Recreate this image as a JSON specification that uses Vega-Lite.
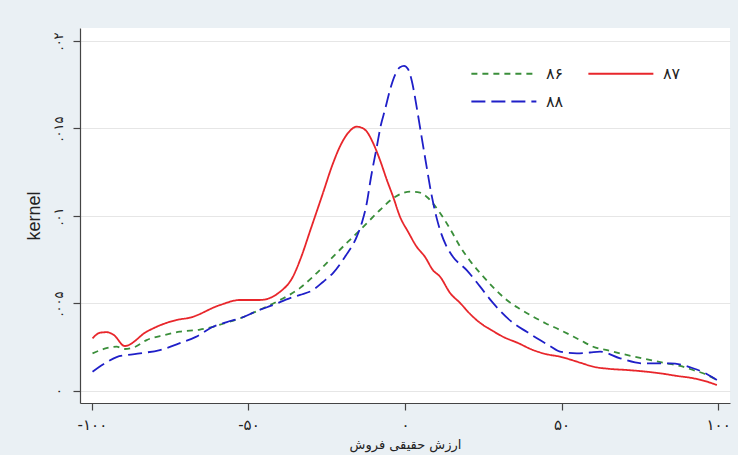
{
  "$schema": "https://vega.github.io/schema/vega-lite/v6.json",
  "width": 650,
  "height": 375,
  "autosize": {"type": "none"},
  "padding": {"left": 80, "top": 28, "right": 8, "bottom": 52},
  "background": "#eaf0f4",
  "config": {
    "view": {"fill": "white", "stroke": null},
    "font": "DejaVu Sans"
  },
  "data": {"values": [
    {"g":"۸۷","x":-99.8,"y":0.00301},{"g":"۸۷","x":-97.4,"y":0.00333},{"g":"۸۷","x":-95.3,"y":0.00336},{"g":"۸۷","x":-93.0,"y":0.0032},{"g":"۸۷","x":-89.5,"y":0.00257},{"g":"۸۷","x":-82.5,"y":0.00339},{"g":"۸۷","x":-72.9,"y":0.00406},{"g":"۸۷","x":-68.7,"y":0.00419},{"g":"۸۷","x":-59.1,"y":0.00491},{"g":"۸۷","x":-52.7,"y":0.0052},{"g":"۸۷","x":-46.3,"y":0.0052},{"g":"۸۷","x":-39.9,"y":0.00567},{"g":"۸۷","x":-35.8,"y":0.00653},{"g":"۸۷","x":-33.5,"y":0.00749},{"g":"۸۷","x":-30.0,"y":0.00931},{"g":"۸۷","x":-26.2,"y":0.01131},{"g":"۸۷","x":-23.3,"y":0.01286},{"g":"۸۷","x":-20.8,"y":0.01396},{"g":"۸۷","x":-18.2,"y":0.01474},{"g":"۸۷","x":-15.4,"y":0.0151},{"g":"۸۷","x":-13.7,"y":0.01503},{"g":"۸۷","x":-12.2,"y":0.01482},{"g":"۸۷","x":-10.2,"y":0.01417},{"g":"۸۷","x":-8.0,"y":0.0132},{"g":"۸۷","x":-5.8,"y":0.01206},{"g":"۸۷","x":-3.8,"y":0.0111},{"g":"۸۷","x":-1.6,"y":0.00996},{"g":"۸۷","x":1.0,"y":0.00909},{"g":"۸۷","x":3.7,"y":0.00825},{"g":"۸۷","x":6.4,"y":0.00766},{"g":"۸۷","x":8.9,"y":0.00691},{"g":"۸۷","x":11.2,"y":0.00653},{"g":"۸۷","x":14.4,"y":0.0056},{"g":"۸۷","x":17.6,"y":0.00503},{"g":"۸۷","x":20.8,"y":0.0044},{"g":"۸۷","x":24.0,"y":0.00389},{"g":"۸۷","x":27.5,"y":0.00349},{"g":"۸۷","x":31.3,"y":0.0031},{"g":"۸۷","x":36.1,"y":0.00274},{"g":"۸۷","x":40.9,"y":0.00234},{"g":"۸۷","x":45.0,"y":0.00211},{"g":"۸۷","x":49.5,"y":0.00196},{"g":"۸۷","x":55.9,"y":0.00162},{"g":"۸۷","x":60.1,"y":0.00139},{"g":"۸۷","x":65.5,"y":0.00126},{"g":"۸۷","x":70.8,"y":0.0012},{"g":"۸۷","x":76.7,"y":0.00111},{"g":"۸۷","x":81.5,"y":0.00101},{"g":"۸۷","x":86.9,"y":0.00086},{"g":"۸۷","x":92.0,"y":0.00073},{"g":"۸۷","x":95.8,"y":0.00057},{"g":"۸۷","x":99.6,"y":0.00034},

    {"g":"۸۶","x":-99.8,"y":0.00215},{"g":"۸۶","x":-96.2,"y":0.0024},{"g":"۸۶","x":-92.1,"y":0.00253},{"g":"۸۶","x":-89.5,"y":0.0024},{"g":"۸۶","x":-86.3,"y":0.00251},{"g":"۸۶","x":-82.5,"y":0.00291},{"g":"۸۶","x":-76.7,"y":0.0032},{"g":"۸۶","x":-71.9,"y":0.00339},{"g":"۸۶","x":-65.5,"y":0.00351},{"g":"۸۶","x":-61.3,"y":0.00367},{"g":"۸۶","x":-56.9,"y":0.00391},{"g":"۸۶","x":-52.7,"y":0.00415},{"g":"۸۶","x":-48.6,"y":0.00446},{"g":"۸۶","x":-44.2,"y":0.00482},{"g":"۸۶","x":-39.9,"y":0.0052},{"g":"۸۶","x":-33.5,"y":0.00589},{"g":"۸۶","x":-29.4,"y":0.00653},{"g":"۸۶","x":-24.0,"y":0.00749},{"g":"۸۶","x":-18.6,"y":0.00846},{"g":"۸۶","x":-13.7,"y":0.00931},{"g":"۸۶","x":-8.0,"y":0.01034},{"g":"۸۶","x":-3.2,"y":0.01109},{"g":"۸۶","x":1.6,"y":0.01139},{"g":"۸۶","x":4.8,"y":0.01134},{"g":"۸۶","x":6.9,"y":0.0111},{"g":"۸۶","x":11.2,"y":0.01017},{"g":"۸۶","x":14.4,"y":0.00926},{"g":"۸۶","x":17.6,"y":0.00825},{"g":"۸۶","x":20.8,"y":0.00743},{"g":"۸۶","x":24.0,"y":0.00674},{"g":"۸۶","x":28.1,"y":0.00594},{"g":"۸۶","x":32.5,"y":0.0052},{"g":"۸۶","x":36.7,"y":0.00469},{"g":"۸۶","x":40.9,"y":0.00425},{"g":"۸۶","x":45.0,"y":0.00386},{"g":"۸۶","x":49.5,"y":0.00349},{"g":"۸۶","x":55.9,"y":0.00291},{"g":"۸۶","x":60.1,"y":0.00253},{"g":"۸۶","x":65.5,"y":0.00229},{"g":"۸۶","x":70.8,"y":0.00206},{"g":"۸۶","x":76.7,"y":0.00183},{"g":"۸۶","x":83.6,"y":0.00158},{"g":"۸۶","x":87.9,"y":0.00143},{"g":"۸۶","x":92.0,"y":0.0012},{"g":"۸۶","x":95.8,"y":0.00097},{"g":"۸۶","x":99.6,"y":0.00063},

    {"g":"۸۸","x":-99.8,"y":0.0011},{"g":"۸۸","x":-96.2,"y":0.00154},{"g":"۸۸","x":-92.1,"y":0.00194},{"g":"۸۸","x":-88.5,"y":0.00206},{"g":"۸۸","x":-84.7,"y":0.00215},{"g":"۸۸","x":-78.3,"y":0.00234},{"g":"۸۸","x":-71.9,"y":0.00273},{"g":"۸۸","x":-66.8,"y":0.00309},{"g":"۸۸","x":-61.3,"y":0.00367},{"g":"۸۸","x":-56.9,"y":0.00394},{"g":"۸۸","x":-52.7,"y":0.00415},{"g":"۸۸","x":-47.3,"y":0.00457},{"g":"۸۸","x":-42.2,"y":0.00491},{"g":"۸۸","x":-36.7,"y":0.00531},{"g":"۸۸","x":-33.5,"y":0.00549},{"g":"۸۸","x":-29.4,"y":0.00577},{"g":"۸۸","x":-26.2,"y":0.00623},{"g":"۸۸","x":-23.0,"y":0.00674},{"g":"۸۸","x":-19.2,"y":0.00766},{"g":"۸۸","x":-15.4,"y":0.00882},{"g":"۸۸","x":-13.7,"y":0.00966},{"g":"۸۸","x":-12.2,"y":0.01074},{"g":"۸۸","x":-10.9,"y":0.01217},{"g":"۸۸","x":-9.0,"y":0.01396},{"g":"۸۸","x":-7.7,"y":0.0152},{"g":"۸۸","x":-6.4,"y":0.01606},{"g":"۸۸","x":-4.8,"y":0.0172},{"g":"۸۸","x":-3.2,"y":0.01805},{"g":"۸۸","x":-1.6,"y":0.01850},{"g":"۸۸","x":-0.3,"y":0.01858},{"g":"۸۸","x":1.0,"y":0.01838},{"g":"۸۸","x":2.2,"y":0.01770},{"g":"۸۸","x":3.7,"y":0.01625},{"g":"۸۸","x":5.1,"y":0.01474},{"g":"۸۸","x":6.9,"y":0.01282},{"g":"۸۸","x":8.3,"y":0.01137},{"g":"۸۸","x":10.1,"y":0.00989},{"g":"۸۸","x":11.5,"y":0.00903},{"g":"۸۸","x":13.3,"y":0.00825},{"g":"۸۸","x":15.3,"y":0.00767},{"g":"۸۸","x":19.7,"y":0.00691},{"g":"۸۸","x":24.0,"y":0.00596},{"g":"۸۸","x":28.1,"y":0.00503},{"g":"۸۸","x":34.5,"y":0.00389},{"g":"۸۸","x":39.0,"y":0.00337},{"g":"۸۸","x":43.1,"y":0.00291},{"g":"۸۸","x":46.3,"y":0.00257},{"g":"۸۸","x":49.5,"y":0.00225},{"g":"۸۸","x":54.9,"y":0.00215},{"g":"۸۸","x":59.1,"y":0.0022},{"g":"۸۸","x":62.3,"y":0.00225},{"g":"۸۸","x":68.7,"y":0.00187},{"g":"۸۸","x":76.0,"y":0.00158},{"g":"۸۸","x":84.7,"y":0.00158},{"g":"۸۸","x":92.0,"y":0.0013},{"g":"۸۸","x":95.8,"y":0.00103},{"g":"۸۸","x":99.6,"y":0.00063}
  ]},
  "mark": {"type": "line", "interpolate": "monotone", "strokeWidth": 1.8},
  "encoding": {
    "x": {
      "field": "x", "type": "quantitative",
      "scale": {"domain": [-103.8, 103.8], "nice": false, "zero": false},
      "axis": {
        "values": [-100, -50, 0, 50, 100],
        "labelExpr": "datum.value == -100 ? '-۱۰۰' : datum.value == -50 ? '-۵۰' : datum.value == 0 ? '۰' : datum.value == 50 ? '۵۰' : '۱۰۰'",
        "title": "ارزش حقیقی فروش",
        "grid": false,
        "domainColor": "#444", "domainWidth": 1.2,
        "tickColor": "#444", "tickWidth": 1.2, "tickSize": 7,
        "labelColor": "#222", "labelFontSize": 15, "labelPadding": 7, "labelFont": "DejaVu Sans",
        "titleColor": "#222", "titleFontSize": 13, "titleFontWeight": "normal", "titlePadding": 6, "titleFont": "DejaVu Sans"
      }
    },
    "y": {
      "field": "y", "type": "quantitative",
      "scale": {"domain": [-0.000686, 0.02074], "nice": false, "zero": false},
      "axis": {
        "values": [0, 0.005, 0.01, 0.015, 0.02],
        "labelExpr": "datum.value < 0.001 ? '۰' : datum.value < 0.006 ? '.۰۰۵' : datum.value < 0.011 ? '.۰۱' : datum.value < 0.016 ? '.۰۱۵' : '.۰۲'",
        "labelAngle": -90,
        "title": "kernel",
        "grid": true, "gridColor": "#e6e6e6", "gridWidth": 1,
        "domainColor": "#444", "domainWidth": 1.2,
        "tickColor": "#444", "tickWidth": 1.2, "tickSize": 7,
        "labelColor": "#222", "labelFontSize": 13, "labelPadding": 8, "labelFont": "DejaVu Sans",
        "titleColor": "#222", "titleFontSize": 18, "titleFontWeight": "normal", "titlePadding": 9, "titleFont": "Liberation Sans"
      }
    },
    "color": {
      "field": "g", "type": "nominal",
      "scale": {"domain": ["۸۶", "۸۷", "۸۸"], "range": ["#3a8e3a", "#e8262b", "#1f1fc8"]},
      "legend": {
        "title": null, "orient": "none", "legendX": 390, "legendY": 36,
        "direction": "horizontal",
        "columns": 2, "columnPadding": 20, "rowPadding": 10,
        "symbolType": "M-1,0H7", "symbolSize": 264, "symbolStrokeWidth": 2,
        "labelFontSize": 16, "labelOffset": 57, "labelColor": "#222", "labelFont": "DejaVu Sans"
      }
    },
    "strokeDash": {
      "field": "g", "type": "nominal",
      "scale": {"domain": ["۸۶", "۸۷", "۸۸"], "range": [[6, 5], [1, 0], [14, 6]]},
      "legend": null
    }
  }
}
